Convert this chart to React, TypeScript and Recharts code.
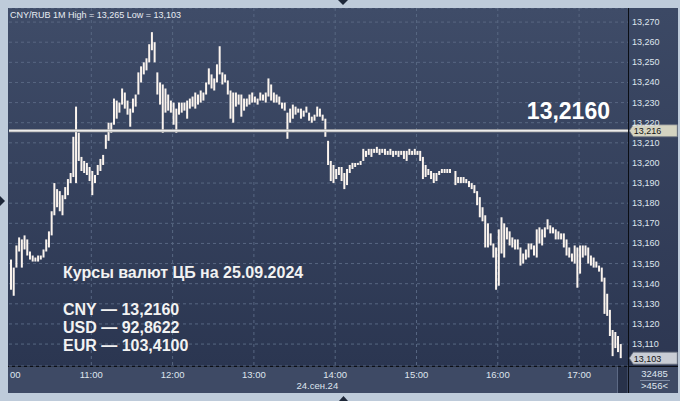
import React from 'react';
import { ComposedChart, Bar, XAxis, YAxis, CartesianGrid, ReferenceLine } from 'recharts';

// CNY/RUB, 24.09.24, bars grouped by 2 minutes starting at 10:00
const BIN_MINUTES = 2;

const highs = [
  13.152, 13.148, 13.159, 13.163, 13.162, 13.164, 13.162, 13.156, 13.154, 13.153,
  13.154, 13.154, 13.157, 13.162, 13.166, 13.176, 13.190, 13.187, 13.186, 13.184,
  13.188, 13.192, 13.195, 13.213, 13.228, 13.215, 13.203, 13.201, 13.200, 13.198,
  13.196, 13.194, 13.199, 13.202, 13.204, 13.214, 13.220, 13.220, 13.232, 13.231,
  13.230, 13.237, 13.235, 13.231, 13.227, 13.232, 13.234, 13.245, 13.248, 13.250,
  13.252, 13.259, 13.265, 13.260, 13.245, 13.240, 13.239, 13.237, 13.234, 13.231,
  13.230, 13.227, 13.230, 13.230, 13.230, 13.231, 13.232, 13.233, 13.235, 13.234,
  13.236, 13.235, 13.240, 13.247, 13.244, 13.242, 13.249, 13.258, 13.245, 13.244,
  13.241, 13.236, 13.235, 13.235, 13.234, 13.234, 13.232, 13.232, 13.234, 13.235,
  13.233, 13.232, 13.235, 13.234, 13.235, 13.242, 13.239, 13.235, 13.234, 13.233,
  13.230, 13.230, 13.225, 13.227, 13.229, 13.228, 13.227, 13.227, 13.226, 13.228,
  13.225, 13.223, 13.224, 13.228, 13.227, 13.224, 13.222, 13.211, 13.201, 13.199,
  13.197, 13.198, 13.198, 13.195, 13.197, 13.199, 13.200, 13.200, 13.200, 13.201,
  13.207, 13.206, 13.207, 13.207, 13.207, 13.208, 13.207, 13.207, 13.207, 13.206,
  13.207, 13.206, 13.206, 13.206, 13.206, 13.206, 13.206, 13.207, 13.206, 13.207,
  13.206, 13.206, 13.203, 13.199, 13.197, 13.196, 13.195, 13.195, 13.196, 13.197,
  13.197, 13.197, 13.197, null, 13.196, 13.193, 13.193, 13.193, 13.192, 13.191,
  13.190, 13.189, 13.186, 13.183, 13.178, 13.174, 13.170, 13.165, 13.160, 13.158,
  13.167, 13.173, 13.170, 13.168, 13.166, 13.163, 13.162, 13.162, 13.158, 13.155,
  13.157, 13.160, 13.160, 13.159, 13.167, 13.168, 13.167, 13.168, 13.172, 13.169,
  13.168, 13.167, 13.166, 13.165, 13.165, 13.162, 13.158, 13.155, 13.159, 13.158,
  13.159, 13.159, 13.159, 13.158, 13.154, 13.153, 13.151, 13.149, 13.148, 13.143,
  13.135, 13.127, 13.117, 13.116, 13.114, 13.110,
];

const lows = [
  13.137, 13.134, 13.148, 13.156, 13.148, 13.157, 13.154, 13.152, 13.151, 13.151,
  13.151, 13.152, 13.153, 13.156, 13.158, 13.164, 13.174, 13.178, 13.176, 13.174,
  13.182, 13.184, 13.190, 13.193, 13.190, 13.201, 13.196, 13.195, 13.194, 13.191,
  13.184, 13.190, 13.194, 13.196, 13.199, 13.207, 13.211, 13.215, 13.219, 13.222,
  13.225, 13.229, 13.227, 13.224, 13.218, 13.225, 13.228, 13.234, 13.240, 13.244,
  13.246, 13.250, 13.256, 13.250, 13.234, 13.229, 13.215, 13.225, 13.226, 13.225,
  13.219, 13.215, 13.224, 13.225, 13.226, 13.222, 13.227, 13.228, 13.227, 13.229,
  13.230, 13.231, 13.234, 13.239, 13.237, 13.236, 13.240, 13.244, 13.239, 13.240,
  13.234, 13.222, 13.220, 13.228, 13.229, 13.223, 13.226, 13.228, 13.229, 13.230,
  13.230, 13.229, 13.231, 13.231, 13.230, 13.233, 13.231, 13.230, 13.230, 13.229,
  13.227, 13.226, 13.212, 13.220, 13.222, 13.224, 13.225, 13.222, 13.223, 13.225,
  13.221, 13.220, 13.221, 13.223, 13.223, 13.221, 13.213, 13.199, 13.191, 13.190,
  13.192, 13.194, 13.191, 13.187, 13.189, 13.195, 13.197, 13.198, 13.199, 13.199,
  13.201, 13.203, 13.204, 13.203, 13.205, 13.205, 13.204, 13.205, 13.204, 13.204,
  13.204, 13.203, 13.204, 13.203, 13.204, 13.202, 13.201, 13.204, 13.204, 13.204,
  13.204, 13.201, 13.192, 13.193, 13.194, 13.192, 13.190, 13.191, 13.194, 13.195,
  13.195, 13.195, 13.195, null, 13.189, 13.190, 13.190, 13.190, 13.190, 13.188,
  13.187, 13.185, 13.179, 13.173, 13.171, 13.158, 13.158, 13.159, 13.153, 13.137,
  13.139, 13.155, 13.153, 13.162, 13.159, 13.158, 13.157, 13.157, 13.149, 13.150,
  13.152, 13.153, 13.157, 13.154, 13.153, 13.160, 13.159, 13.163, 13.167, 13.165,
  13.165, 13.162, 13.162, 13.162, 13.158, 13.154, 13.153, 13.151, 13.150, 13.138,
  13.145, 13.153, 13.154, 13.150, 13.149, 13.148, 13.148, 13.146, 13.141, 13.125,
  13.124, 13.114, 13.104, 13.108, 13.106, 13.103,
];

const hourTicks = [0, 60, 120, 180, 240, 300, 360, 420];
const hourLabels = ['00', '11:00', '12:00', '13:00', '14:00', '15:00', '16:00', '17:00'];
const priceTicks = [
  13.11, 13.12, 13.13, 13.14, 13.15, 13.16, 13.17, 13.18, 13.19,
  13.2, 13.21, 13.22, 13.23, 13.24, 13.25, 13.26, 13.27,
];

const cbRate = 13.216;
const lastPrice = 13.103;
const ratesTitle = 'Курсы валют ЦБ на 25.09.2024';
const rates = ['CNY — 13,2160', 'USD — 92,8622', 'EUR — 103,4100'];

const data = highs
  .map((hi, i) => ({ t: i * BIN_MINUTES + BIN_MINUTES / 2, range: hi == null ? null : [lows[i], hi] }))
  .filter((d) => d.range);

const FONT = 'Arial, "Liberation Sans", sans-serif';
const fmt = (v: number) => v.toFixed(3).replace('.', ',');

const XTick = (props: any) => {
  const { x, payload } = props;
  const idx = hourTicks.indexOf(payload.value);
  const first = idx === 0;
  return (
    <g>
      <text x={x} y={370} textAnchor={first ? 'start' : 'middle'} fontSize={9.5} fill="#dfe5ee" fontFamily={FONT}>
        {hourLabels[idx]}
      </text>
      {payload.value === 240 && (
        <text x={x + 3} y={380.5} textAnchor="end" fontSize={9.5} fill="#dfe5ee" fontFamily={FONT}>
          24.сен.24
        </text>
      )}
    </g>
  );
};

const YTick = (props: any) => {
  const { y, payload } = props;
  return (
    <text x={623} y={y + 3} fontSize={9} fill="#dfe5ee" fontFamily={FONT}>
      {fmt(payload.value)}
    </text>
  );
};

const Tag = (props: any) => {
  const { viewBox, text, fill } = props;
  if (!viewBox) return null;
  const x0 = viewBox.x + viewBox.width + 1.3;
  const y0 = viewBox.y;
  return (
    <g>
      <path
        d={`M${x0},${y0} L${x0 + 4},${y0 - 6} L${x0 + 48},${y0 - 6} L${x0 + 48},${y0 + 6} L${x0 + 4},${y0 + 6} Z`}
        fill={fill}
        stroke="#6e7684"
        strokeWidth={0.8}
      />
      <text x={x0 + 4.5} y={y0 + 3.5} fontSize={9} fill="#141414" fontFamily={FONT}>
        {text}
      </text>
    </g>
  );
};

const BigLabel = (props: any) => {
  const { viewBox } = props;
  if (!viewBox) return null;
  return (
    <text
      x={viewBox.x + viewBox.width - 18}
      y={viewBox.y - 11.7}
      textAnchor="end"
      fontSize={23}
      fontWeight="bold"
      fill="#ffffff"
      fontFamily={FONT}
    >
      13,2160
    </text>
  );
};

export default function App() {
  return (
    <div style={{ position: 'absolute', left: 0, top: 0, width: 680, height: 401, background: '#becbda', overflow: 'hidden', fontFamily: FONT }}>
      {/* panels */}
      <div style={{ position: 'absolute', left: 8, top: 8, width: 620, height: 358, background: 'linear-gradient(#3f4c68, #2b3651)' }} />
      <div style={{ position: 'absolute', left: 629, top: 8, width: 49, height: 358, background: 'linear-gradient(#3c4965, #2d3752)' }} />
      <div style={{ position: 'absolute', left: 8, top: 367, width: 670, height: 26, background: '#3e4a65' }} />
      <div style={{ position: 'absolute', left: 617, top: 367, width: 10, height: 26, background: '#28324a', borderLeft: '1px solid #5d6a85', boxSizing: 'border-box' }} />
      <div style={{ position: 'absolute', left: 628, top: 8, width: 1, height: 385, background: '#0b0e14' }} />
      <div style={{ position: 'absolute', left: 8, top: 366, width: 670, height: 1, background: '#0b0e14' }} />

      <div style={{ position: 'absolute', left: 9, top: 8 }}>
        <ComposedChart width={671} height={386} data={data} margin={{ top: 0, right: 0, bottom: 0, left: 0 }}>
          <CartesianGrid stroke="#586782" strokeDasharray="3 3" verticalValues={hourTicks.slice(1)} />
          <XAxis
            dataKey="t"
            type="number"
            domain={[-0.74, 456.1]}
            ticks={hourTicks}
            interval={0}
            height={28}
            axisLine={false}
            tickLine={false}
            tick={<XTick />}
            allowDataOverflow
          />
          <YAxis
            orientation="right"
            width={52}
            domain={[13.0991, 13.277]}
            ticks={priceTicks}
            interval={0}
            axisLine={false}
            tickLine={false}
            tick={<YTick />}
            allowDataOverflow
          />
          <Bar dataKey="range" fill="#fbf4ee" barSize={2} isAnimationActive={false} />
          <ReferenceLine y={cbRate} stroke="#b4b4b4" strokeWidth={3} label={<BigLabel />} />
          <ReferenceLine y={cbRate} stroke="#ffffff" strokeWidth={1} label={<Tag text="13,216" fill="#d4d3c1" />} />
          <ReferenceLine y={lastPrice} stroke="none" label={<Tag text="13,103" fill="#c9cdd5" />} />
        </ComposedChart>
      </div>

      <svg width={680} height={401} style={{ position: 'absolute', left: 0, top: 0, pointerEvents: 'none' }}>
        <text x={10} y={18} fontSize={9} fill="#e8ecf2" fontFamily={FONT}>
          CNY/RUB 1M High = 13,265 Low = 13,103
        </text>
        <text x={63} y={278} fontSize={16} fontWeight="bold" fill="#f2f2f2" fontFamily={FONT}>
          {ratesTitle}
        </text>
        {rates.map((r, i) => (
          <text key={r} x={63} y={315 + i * 17.9} fontSize={16} fontWeight="bold" fill="#f2f2f2" fontFamily={FONT}>
            {r}
          </text>
        ))}
        <text x={654.5} y={376.7} textAnchor="middle" fontSize={9.5} fill="#dfe6f0" fontFamily={FONT}>32485</text>
        <line x1={640} x2={670} y1={380.5} y2={380.5} stroke="#7d8aa2" strokeWidth={1} />
        <text x={654.5} y={389} textAnchor="middle" fontSize={9.5} fill="#dfe6f0" fontFamily={FONT}>&gt;456&lt;</text>
        <polygon points="338,0 348,0 343,5" fill="#1d2739" />
        <polygon points="339,401 348,401 343.5,396" fill="#1d2739" />
        <polygon points="0,196 0,206 5,201" fill="#1d2739" />
      </svg>
    </div>
  );
}
